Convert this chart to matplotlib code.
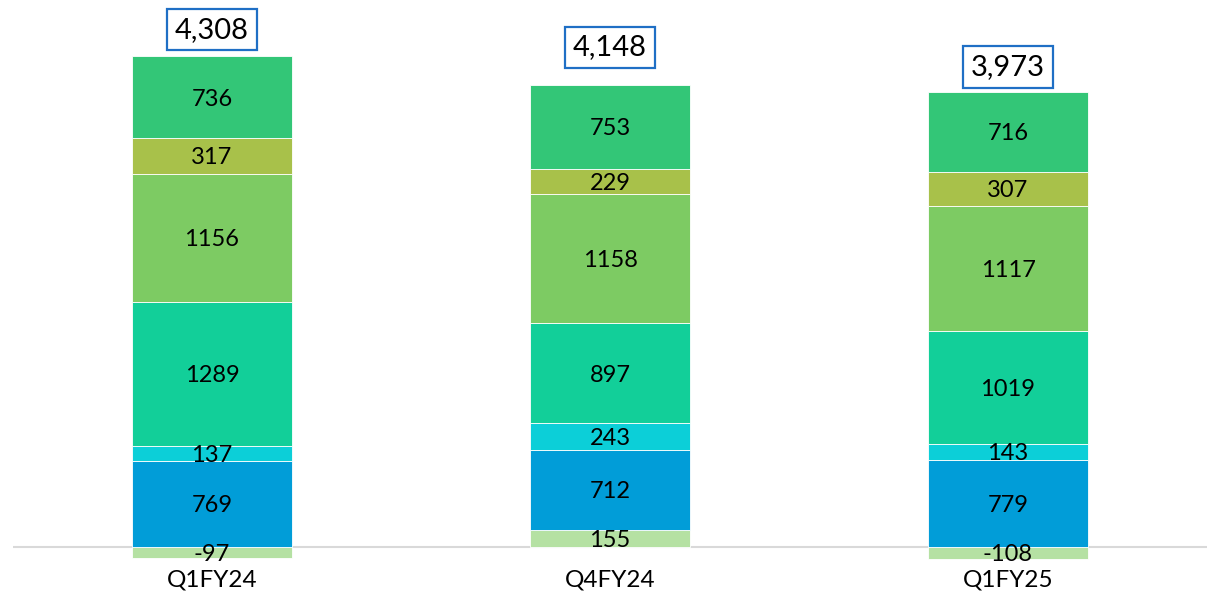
import matplotlib.pyplot as plt

plt.rcParams["font.family"] = ["Lato", "DejaVu Sans"]

quarters = ["Q1FY24", "Q4FY24", "Q1FY25"]

# segments from bottom to top
seg_base = [-97, 155, -108]
seg_blue = [769, 712, 779]
seg_cyan = [137, 243, 143]
seg_teal = [1289, 897, 1019]
seg_lgreen = [1156, 1158, 1117]
seg_olive = [317, 229, 307]
seg_green = [736, 753, 716]
totals = [4308, 4148, 3973]

series = [seg_base, seg_blue, seg_cyan, seg_teal, seg_lgreen, seg_olive, seg_green]
colors = ["#b5e1a3", "#019dd8", "#0ccfd8", "#12cf99", "#7dcb63", "#a8c14a", "#33c677"]

fig = plt.figure(figsize=(12.07, 5.95), dpi=100)
ax = fig.add_axes([13 / 1207, 0, 1194 / 1207, 1])

x = list(range(len(quarters)))
pos_bottom = [0, 0, 0]
neg_bottom = [0, 0, 0]
for vals, col in zip(series, colors):
    bottoms = []
    for i, v in enumerate(vals):
        if v >= 0:
            bottoms.append(pos_bottom[i])
            pos_bottom[i] += v
        else:
            bottoms.append(neg_bottom[i])
            neg_bottom[i] += v
    bars = ax.bar(x, vals, bottom=bottoms, width=0.4, color=col,
                  edgecolor="white", linewidth=0.6, zorder=2)
    for b, v in zip(bars, vals):
        ax.annotate(f"{v}", xy=(b.get_x() + b.get_width() / 2,
                                b.get_y() + b.get_height() / 2),
                    xytext=(0, -1.2), textcoords="offset points",
                    ha="center", va="center", fontsize=17, color="black",
                    zorder=4)

# totals in boxes
for i, t in enumerate(totals):
    ax.annotate(f"{t:,}", xy=(i, t), xytext=(0, 27), textcoords="offset points",
                ha="center", va="center", fontsize=21, color="black",
                bbox=dict(boxstyle="square,pad=0.27", fc="white",
                          ec="#1f6fc5", lw=1.6))

# category labels
for i, q in enumerate(quarters):
    ax.annotate(q, xy=(i, 0), xytext=(0, -24), textcoords="offset points",
                ha="center", va="center", fontsize=17.5, color="black")

ax.axhline(0, color="#d9d9d9", linewidth=1.5, zorder=1)

ax.set_xlim(-0.5, 2.5)
ax.set_ylim(-431, 4910)
ax.axis("off")

plt.savefig("out.png", dpi=100)
plt.close(fig)
